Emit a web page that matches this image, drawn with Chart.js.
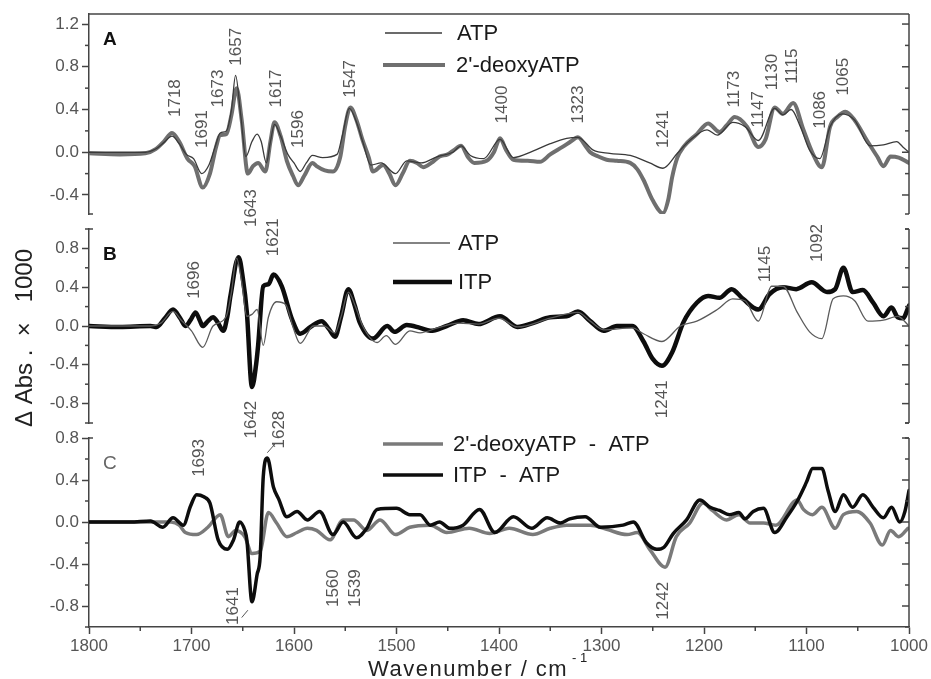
<!DOCTYPE html>
<html>
<head>
<meta charset="utf-8">
<script src="https://cdn.jsdelivr.net/npm/chart.js@4.4.1/dist/chart.umd.min.js"></script>
<style>
  html, body { margin: 0; padding: 0; background: #fff; }
  #wrap { position: relative; width: 931px; height: 679px; }
  #wrap canvas { position: absolute; left: 0; top: 0; }
</style>
</head>
<body>
<div id="wrap">
  <canvas id="panelA" width="931" height="679"></canvas>
  <canvas id="panelB" width="931" height="679"></canvas>
  <canvas id="panelC" width="931" height="679"></canvas>
</div>
<script>
// ---------- data (wavenumber / cm-1, dAbs x 1000) ----------
const xTicks = [1800, 1700, 1600, 1500, 1400, 1300, 1200, 1100, 1000];
const aTicks = [-0.4, 0, 0.4, 0.8, 1.2];
const bTicks = [-0.8, -0.4, 0, 0.4, 0.8];
const cTicks = [-0.8, -0.4, 0, 0.4, 0.8];

// panel A : ATP
const aAtpWn = [1800,1745,1735,1727,1719,1712,1705,1698,1690,1683,1677,1672,1666,1661,1657,1652,1647,1641,1636,1632,1627,1623,1619,1613,1606,1600,1594,1588,1582,1572,1558,1553,1546,1539,1533,1525,1515,1501,1490,1476,1460,1445,1437,1428,1415,1399,1386,1367,1350,1334,1323,1308,1292,1272,1253,1240,1226,1214,1197,1187,1172,1160,1147,1131,1123,1115,1106,1097,1087,1077,1065,1053,1038,1025,1012,1006,1000];
const aAtpAbs = [0,0,0.03,0.09,0.15,0.08,-0.02,-0.06,-0.2,-0.12,0.05,0.18,0.2,0.4,0.72,0.35,-0.04,0.1,0.17,0.1,-0.1,0.1,0.26,0.15,-0.02,-0.1,-0.18,-0.1,-0.03,-0.05,-0.02,0.15,0.41,0.28,0.1,-0.12,-0.1,-0.2,-0.08,-0.1,-0.04,0,0.06,-0.03,-0.06,0.12,-0.05,0.01,0.08,0.13,0.14,0.02,-0.01,-0.03,-0.1,-0.15,-0.01,0.11,0.21,0.16,0.28,0.24,0.11,0.41,0.35,0.4,0.24,0.02,-0.06,0.24,0.36,0.3,0.06,0.07,0.1,0.05,0];

// panel A : 2'-deoxyATP
const aDeoxyWn = [1800,1770,1745,1735,1727,1719,1712,1704,1697,1689,1682,1676,1672,1666,1661,1656,1651,1645,1640,1635,1628,1623,1619,1613,1607,1601,1596,1590,1582,1578,1570,1562,1555,1550,1545,1539,1533,1527,1523,1513,1507,1501,1494,1487,1480,1474,1466,1458,1450,1444,1437,1430,1424,1412,1405,1399,1393,1386,1372,1360,1350,1338,1330,1323,1315,1311,1303,1295,1285,1272,1265,1259,1250,1240,1235,1231,1226,1220,1207,1196,1185,1178,1170,1158,1147,1140,1131,1123,1113,1103,1094,1085,1077,1070,1062,1053,1041,1031,1025,1018,1010,1000];
const aDeoxyAbs = [-0.01,-0.02,-0.01,0.03,0.1,0.18,0.1,-0.06,-0.13,-0.33,-0.2,0.05,0.16,0.17,0.35,0.6,0.3,-0.2,-0.13,-0.1,-0.18,0.1,0.28,0.15,-0.08,-0.22,-0.31,-0.22,-0.1,-0.13,-0.17,-0.18,-0.05,0.25,0.42,0.3,0.11,-0.05,-0.18,-0.12,-0.2,-0.31,-0.2,-0.08,-0.1,-0.14,-0.1,-0.04,-0.02,0.02,0.06,-0.05,-0.1,-0.08,0,0.13,0.02,-0.07,-0.08,-0.09,-0.02,0.05,0.1,0.14,0.05,0,-0.04,-0.07,-0.08,-0.1,-0.16,-0.26,-0.45,-0.57,-0.45,-0.23,-0.05,0.05,0.17,0.27,0.19,0.25,0.33,0.24,0.05,0.12,0.42,0.36,0.46,0.21,-0.01,-0.14,0.24,0.33,0.38,0.3,0.11,-0.04,-0.13,-0.04,-0.05,-0.1];

// panel B : ATP
const bAtpWn = [1800,1740,1730,1718,1710,1700,1689,1679,1666,1661,1656,1651,1646,1641,1636,1630,1625,1617,1608,1601,1594,1581,1571,1560,1554,1547,1540,1533,1519,1510,1501,1487,1477,1460,1440,1420,1400,1382,1350,1323,1311,1298,1270,1259,1241,1223,1207,1187,1172,1160,1147,1134,1123,1109,1097,1085,1074,1064,1053,1040,1025,1011,1000];
const bAtpAbs = [0,0,0.03,0.15,0.06,-0.05,-0.22,0,0.1,0.35,0.7,0.45,0.1,0.12,0.17,-0.2,0.09,0.25,0.22,-0.01,-0.18,0,0,-0.07,0.1,0.35,0.2,0,-0.17,-0.1,-0.19,-0.05,-0.07,-0.02,0.03,0.02,0.08,-0.01,0.08,0.14,0.05,-0.04,-0.02,-0.08,-0.16,0,0.05,0.17,0.28,0.26,0.05,0.41,0.41,0.14,-0.06,-0.13,0.28,0.31,0.26,0.05,0.06,0.1,0];

// panel B : ITP
const bItpWn = [1800,1770,1740,1734,1726,1718,1711,1706,1701,1696,1692,1689,1684,1679,1674,1669,1665,1662,1654,1650,1646,1641,1637,1635,1630,1625,1620,1612,1602,1594,1584,1573,1566,1560,1554,1547,1541,1536,1523,1509,1502,1490,1477,1467,1451,1435,1420,1399,1382,1367,1350,1334,1323,1311,1298,1285,1270,1259,1250,1241,1231,1220,1207,1196,1185,1173,1162,1147,1136,1123,1110,1095,1080,1072,1064,1055,1045,1035,1025,1017,1011,1006,1000];
const bItpAbs = [0,-0.01,0,-0.01,0.08,0.17,0.08,0,0.06,0.14,0.06,0,0.05,0.09,0.03,-0.05,0.1,0.31,0.71,0.5,0.14,-0.63,-0.4,-0.2,0.41,0.43,0.53,0.41,0.07,-0.08,-0.01,0.05,-0.03,-0.11,0.1,0.38,0.22,0.04,-0.13,0,-0.06,0.01,-0.02,-0.05,0,0.06,0.02,0.1,-0.01,0.03,0.09,0.1,0.15,0.05,-0.05,0,0,-0.16,-0.34,-0.41,-0.27,0.04,0.24,0.31,0.29,0.38,0.28,0.17,0.33,0.4,0.38,0.45,0.35,0.38,0.6,0.35,0.37,0.24,0.1,0.19,0.09,0.08,0.21];

// panel C : 2'-deoxyATP - ATP
const cDeoxyWn = [1800,1720,1712,1706,1695,1684,1672,1664,1657,1648,1641,1633,1625,1617,1607,1597,1587,1578,1565,1552,1542,1529,1516,1501,1487,1467,1451,1429,1409,1390,1367,1350,1334,1311,1295,1275,1265,1253,1238,1227,1214,1201,1192,1178,1166,1155,1142,1130,1109,1103,1094,1085,1072,1064,1051,1038,1026,1018,1010,1001];
const cDeoxyAbs = [0,0,-0.03,-0.1,-0.12,-0.05,0.07,-0.14,-0.08,-0.14,-0.3,-0.28,0.09,-0.01,-0.14,-0.1,-0.06,-0.08,-0.17,0.02,0.02,-0.08,0.02,-0.12,-0.05,-0.03,-0.1,-0.06,-0.11,-0.06,-0.12,-0.06,-0.03,-0.03,-0.07,-0.12,-0.1,-0.26,-0.43,-0.14,-0.01,0.18,0.11,0.02,0.07,-0.01,-0.01,-0.03,0.21,0.12,0.07,0.14,-0.06,0.07,0.1,-0.01,-0.22,-0.08,-0.14,-0.06];

// panel C : ITP - ATP
const cItpWn = [1800,1760,1740,1728,1718,1708,1701,1695,1688,1682,1674,1665,1659,1653,1648,1646,1641,1636,1633,1630,1626,1620,1615,1607,1597,1587,1575,1562,1552,1539,1529,1519,1500,1487,1477,1467,1458,1448,1435,1419,1404,1386,1368,1353,1340,1331,1316,1301,1279,1269,1256,1246,1239,1230,1217,1204,1194,1185,1175,1166,1160,1152,1142,1131,1119,1109,1100,1094,1085,1079,1072,1064,1055,1045,1035,1025,1017,1009,1004,1000];
const cItpAbs = [0,0,0.01,-0.05,0.04,-0.03,0.15,0.26,0.24,0.18,-0.17,-0.26,-0.17,0,-0.08,-0.17,-0.76,-0.5,-0.33,0.43,0.61,0.33,0.22,0.05,0.1,0.02,0.1,-0.12,0,-0.15,-0.06,0.12,0.13,0.07,0.07,-0.03,0,-0.06,-0.03,0.12,-0.1,0.05,-0.06,0.04,-0.01,0.03,0.05,-0.05,-0.03,0,-0.2,-0.26,-0.24,-0.11,0.02,0.21,0.14,0.11,0.07,0.09,0.03,0.1,0.13,-0.1,0.05,0.2,0.38,0.51,0.51,0.3,0.1,0.26,0.14,0.26,0.14,0.04,0.14,0,0.1,0.3];

// peak labels: text, wavenumber of the label, value where the label starts
const aPeakText = ['1718','1691','1673','1657','1617','1596','1547','1643','1400','1323','1241','1173','1147','1130','1115','1086','1065'];
const aPeakWn   = [1716,1689,1674,1656,1617,1596,1545,1642,1397,1323,1240,1170,1147,1133,1114,1087,1064];
const aPeakAt   = [0.33,0.04,0.42,0.81,0.42,0.04,0.51,-0.70,0.27,0.27,0.04,0.42,0.23,0.58,0.64,0.22,0.53];
const bPeakText = ['1696','1621','1642','1241','1145','1092'];
const bPeakWn   = [1697,1620,1642,1241,1140,1089];
const bPeakAt   = [0.28,0.72,-1.16,-0.95,0.45,0.66];
const cPeakText = ['1693','1628','1641','1560','1539','1242'];
const cPeakWn   = [1692,1614,1659,1562,1540,1240];
const cPeakAt   = [0.43,0.70,-0.98,-0.81,-0.81,-0.93];

// ---------- helpers ----------
const FONT = '"Liberation Sans", Arial, Helvetica, sans-serif';
const AXIS = '#444';
const LABEL = '#555';
Chart.defaults.font.family = FONT;

const pts = (wn, v) => wn.map((x, i) => ({ x: x, y: v[i] }));

function seg(ctx, x1, y1, x2, y2) {
  ctx.beginPath();
  ctx.moveTo(x1, y1);
  ctx.lineTo(x2, y2);
  ctx.stroke();
}

function range(from, to, step) {
  const out = [];
  for (let v = from; v <= to + 1e-9; v += step) out.push(Math.round(v * 10) / 10);
  return out;
}

// axis extras, legend, peak labels, titles
function decoPlugin(cfg) {
  return {
    id: 'deco',
    afterDraw(chart) {
      const ctx = chart.ctx, a = chart.chartArea;
      const xs = chart.scales.x, ys = chart.scales.y;
      ctx.save();
      ctx.strokeStyle = AXIS;
      ctx.lineWidth = 1.5;

      // right axis
      seg(ctx, a.right, a.top, a.right, a.bottom);
      if (cfg.topFrame) seg(ctx, a.left, a.top, a.right, a.top);
      if (cfg.topHook) { seg(ctx, a.left, a.top, a.left + 4, a.top); seg(ctx, a.right - 4, a.top, a.right, a.top); }
      if (cfg.bottomHook) { seg(ctx, a.left, a.bottom, a.left + 4, a.bottom); seg(ctx, a.right - 4, a.bottom, a.right, a.bottom); }

      const all = range(Math.ceil(ys.min * 5) / 5, ys.max, 0.2);
      all.forEach(v => {
        const p = ys.getPixelForValue(v);
        const major = cfg.ticks.some(t => Math.abs(t - v) < 1e-6);
        seg(ctx, a.right - (major ? 7 : 4), p, a.right, p);
        if (!major) seg(ctx, a.left - 4, p, a.left, p);
      });
      if (cfg.xMinor) {
        for (let w = 1750; w > 1000; w -= 100) {
          const p = xs.getPixelForValue(w);
          seg(ctx, p, a.bottom, p, a.bottom + 4);
        }
      }

      // peak labels
      ctx.fillStyle = LABEL;
      ctx.font = '17px ' + FONT;
      ctx.textAlign = 'left';
      ctx.textBaseline = 'middle';
      cfg.peakText.forEach((t, i) => {
        ctx.save();
        ctx.translate(xs.getPixelForValue(cfg.peakWn[i]), ys.getPixelForValue(cfg.peakAt[i]));
        ctx.rotate(-Math.PI / 2);
        ctx.fillText(t, 0, 0);
        ctx.restore();
      });
      ctx.strokeStyle = LABEL;
      ctx.lineWidth = 1;
      (cfg.leaders || []).forEach(l => {
        seg(ctx, xs.getPixelForValue(l[0]), ys.getPixelForValue(l[1]),
                 xs.getPixelForValue(l[2]), ys.getPixelForValue(l[3]));
      });

      // panel letter
      ctx.fillStyle = cfg.letterColor;
      ctx.font = cfg.letterFont + FONT;
      ctx.fillText(cfg.letter, a.left + 14, a.top + 26);

      // legend
      ctx.textBaseline = 'middle';
      ctx.font = '22px ' + FONT;
      cfg.legend.forEach(e => {
        const ds = chart.data.datasets[e.ds];
        ctx.strokeStyle = ds.borderColor;
        ctx.lineWidth = ds.borderWidth;
        seg(ctx, e.x1, e.y, e.x2, e.y);
        ctx.fillStyle = '#1a1a1a';
        ctx.fillText(ds.label, e.tx, e.y + 1);
      });

      if (cfg.yTitle) {
        ctx.save();
        ctx.translate(25, 338);
        ctx.rotate(-Math.PI / 2);
        ctx.textAlign = 'center';
        ctx.fillStyle = '#222';
        ctx.font = '24px ' + FONT;
        ctx.fillText('\u0394 Abs .  \u00d7   1000', 0, 0);
        ctx.restore();
      }
      if (cfg.xTitle) {
        ctx.fillStyle = '#222';
        ctx.textBaseline = 'alphabetic';
        ctx.font = '22px ' + FONT;
        ctx.letterSpacing = '1.5px';
        ctx.fillText('Wavenumber / cm', 368, 676);
        ctx.letterSpacing = '0px';
        ctx.font = '13px ' + FONT;
        ctx.fillText('- 1', 572, 662);
      }
      ctx.restore();
    }
  };
}

function makePanel(id, o) {
  return new Chart(document.getElementById(id), {
    type: 'line',
    data: { datasets: o.datasets },
    options: {
      responsive: false,
      animation: false,
      devicePixelRatio: 1,
      events: [],
      layout: { padding: { left: 29, right: 22, top: o.top, bottom: o.bottom } },
      elements: {
        point: { radius: 0 },
        line: { cubicInterpolationMode: 'monotone', borderCapStyle: 'round', borderJoinStyle: 'round' }
      },
      plugins: { legend: { display: false }, tooltip: { enabled: false } },
      scales: {
        x: {
          type: 'linear',
          min: 1000,
          max: 1800,
          reverse: true,
          display: o.showX,
          afterBuildTicks: s => { s.ticks = xTicks.map(v => ({ value: v })); },
          afterFit: s => { s.height = o.showX ? 52 : 0; },
          ticks: { color: LABEL, font: { size: 17 }, padding: 2, maxRotation: 0, callback: v => String(v) },
          grid: { drawOnChartArea: false, tickLength: 7, tickColor: AXIS, tickWidth: 1.5 },
          border: { display: true, color: AXIS, width: 1.5 }
        },
        y: {
          min: o.min,
          max: o.max,
          afterBuildTicks: s => { s.ticks = o.ticks.map(v => ({ value: v })); },
          afterFit: s => { s.width = 60; },
          ticks: { color: LABEL, font: { size: 17 }, padding: 3, callback: v => Number(v).toFixed(1) },
          grid: { drawOnChartArea: false, tickLength: 7, tickColor: AXIS, tickWidth: 1.5 },
          border: { display: true, color: AXIS, width: 1.5 }
        }
      }
    },
    plugins: [decoPlugin(o.deco)]
  });
}

// ---------- panel A ----------
makePanel('panelA', {
  top: 14, bottom: 679 - 214, min: -0.578, max: 1.294, ticks: aTicks, showX: false,
  datasets: [
    { label: 'ATP', data: pts(aAtpWn, aAtpAbs), borderColor: '#3a3a3a', borderWidth: 1.3 },
    { label: "2'-deoxyATP", data: pts(aDeoxyWn, aDeoxyAbs), borderColor: '#6f6f6f', borderWidth: 4 }
  ],
  deco: {
    ticks: aTicks, topFrame: true, bottomHook: true,
    peakText: aPeakText, peakWn: aPeakWn, peakAt: aPeakAt,
    letter: 'A', letterColor: '#111', letterFont: 'bold 19px ',
    legend: [
      { ds: 0, x1: 385, x2: 442, y: 33, tx: 457 },
      { ds: 1, x1: 383, x2: 445, y: 65, tx: 456 }
    ]
  }
});

// ---------- panel B ----------
makePanel('panelB', {
  top: 229, bottom: 679 - 423, min: -1.0, max: 1.0, ticks: bTicks, showX: false,
  datasets: [
    { label: 'ATP', data: pts(bAtpWn, bAtpAbs), borderColor: '#5a5a5a', borderWidth: 1.3 },
    { label: 'ITP', data: pts(bItpWn, bItpAbs), borderColor: '#0d0d0d', borderWidth: 4.5 }
  ],
  deco: {
    ticks: bTicks, topHook: true, bottomHook: true, yTitle: true,
    peakText: bPeakText, peakWn: bPeakWn, peakAt: bPeakAt,
    letter: 'B', letterColor: '#111', letterFont: 'bold 19px ',
    legend: [
      { ds: 0, x1: 393, x2: 450, y: 243, tx: 458 },
      { ds: 1, x1: 393, x2: 452, y: 282, tx: 458 }
    ]
  }
});

// ---------- panel C ----------
makePanel('panelC', {
  top: 438, bottom: 0, min: -1.0, max: 0.8, ticks: cTicks, showX: true,
  datasets: [
    { label: 'ITP  -  ATP', data: pts(cItpWn, cItpAbs), borderColor: '#0d0d0d', borderWidth: 3.5 },
    { label: "2'-deoxyATP  -  ATP", data: pts(cDeoxyWn, cDeoxyAbs), borderColor: '#7a7a7a', borderWidth: 3.5 }
  ],
  deco: {
    ticks: cTicks, topHook: true, xMinor: true, xTitle: true,
    peakText: cPeakText, peakWn: cPeakWn, peakAt: cPeakAt,
    leaders: [[1626, 0.66, 1618, 0.75], [1651, -0.91, 1645, -0.84]],
    letter: 'C', letterColor: '#666', letterFont: '19px ',
    legend: [
      { ds: 1, x1: 383, x2: 443, y: 444, tx: 453 },
      { ds: 0, x1: 383, x2: 443, y: 475, tx: 453 }
    ]
  }
});
</script>
</body>
</html>
